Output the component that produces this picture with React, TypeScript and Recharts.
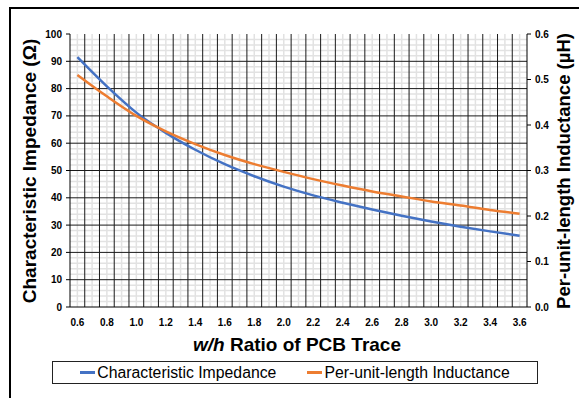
import { LineChart, Line, XAxis, YAxis, ReferenceLine } from 'recharts';

// w/h ratio of the trace (x axis categories)
const ratio = [0.6, 0.8, 1.0, 1.2, 1.4, 1.6, 1.8, 2.0, 2.2, 2.4, 2.6, 2.8, 3.0, 3.2, 3.4, 3.6];
// characteristic impedance, ohms (left axis)
const impedance = [91.5, 80.8, 71.2, 63.8, 57.6, 52.3, 47.9, 44.1, 40.9, 38.2, 35.7, 33.4, 31.3, 29.4, 27.7, 26.1];
// per-unit-length inductance, uH (right axis)
const inductance = [0.51, 0.463, 0.42, 0.386, 0.358, 0.334, 0.314, 0.297, 0.281, 0.267, 0.254, 0.243, 0.232, 0.223, 0.213, 0.205];

const xTicks = [0.6, 0.8, 1.0, 1.2, 1.4, 1.6, 1.8, 2.0, 2.2, 2.4, 2.6, 2.8, 3.0, 3.2, 3.4, 3.6];
const impedanceTicks = [0, 10, 20, 30, 40, 50, 60, 70, 80, 90, 100];
const inductanceTicks = [0, 0.1, 0.2, 0.3, 0.4, 0.5, 0.6];

const seriesNames = ['Characteristic Impedance', 'Per-unit-length Inductance'];
const seriesColors = ['#4472C4', '#ED7D31'];

// grid: dark lines between categories, light lines on categories and every 2 ohms
const xMajorGrid = Array.from({ length: 30 }, (_, i) => 0.65 + i * 0.1);
const xMinorGrid = Array.from({ length: 31 }, (_, i) => 0.6 + i * 0.1);
const yMinorGrid = Array.from({ length: 49 }, (_, i) => 2 + i * 2).filter((v) => v % 10 !== 0);
const yMajorGrid = impedanceTicks.slice(1, -1);

const data = ratio.map((r, i) => ({ ratio: r, impedance: impedance[i], inductance: inductance[i] }));

const font = '"Liberation Sans", Arial, sans-serif';
const tickStyle = { fill: '#000', fontSize: 10, fontWeight: 'bold', fontFamily: font };
const titleStyle = {
  position: 'absolute' as const,
  whiteSpace: 'nowrap' as const,
  fontSize: 19,
  fontWeight: 'bold' as const,
};

export default function App() {
  return (
    <div
      style={{
        position: 'absolute',
        left: 0,
        top: 0,
        width: 579,
        height: 398,
        overflow: 'hidden',
        background: '#fff',
        fontFamily: font,
      }}
    >
      <div
        style={{
          position: 'absolute',
          left: 9,
          top: 7,
          width: 700,
          height: 500,
          border: '2.5px solid #000',
        }}
      />
      <div style={{ position: 'absolute', left: 0, top: 0 }}>
        <LineChart width={579} height={398} data={data} margin={{ top: 34, right: 22, bottom: 61, left: 30 }}>
          {xMinorGrid.map((v) => (
            <ReferenceLine key={'xn' + v} x={v} yAxisId="z" stroke="#e2e2e2" strokeWidth={1.5} />
          ))}
          {yMinorGrid.map((v) => (
            <ReferenceLine key={'yn' + v} y={v} yAxisId="z" stroke="#e2e2e2" strokeWidth={1.5} />
          ))}
          {xMajorGrid.map((v) => (
            <ReferenceLine key={'xj' + v} x={v} yAxisId="z" stroke="#1a1a1a" strokeWidth={1} />
          ))}
          {yMajorGrid.map((v) => (
            <ReferenceLine key={'yj' + v} y={v} yAxisId="z" stroke="#1a1a1a" strokeWidth={1} />
          ))}
          <XAxis
            dataKey="ratio"
            type="number"
            domain={[0.55, 3.65]}
            ticks={xTicks}
            allowDataOverflow
            tickFormatter={(v: number) => v.toFixed(1)}
            tickLine={false}
            tickSize={0}
            tickMargin={12}
            axisLine={{ stroke: '#000' }}
            tick={tickStyle}
            height={30}
          />
          <XAxis
            xAxisId="top"
            orientation="top"
            dataKey="ratio"
            type="number"
            domain={[0.55, 3.65]}
            allowDataOverflow
            tick={false}
            tickLine={false}
            axisLine={{ stroke: '#000' }}
            height={0}
          />
          <YAxis
            yAxisId="z"
            domain={[0, 100]}
            ticks={impedanceTicks}
            width={40}
            tickSize={4}
            tickMargin={4}
            tickLine={{ stroke: '#000' }}
            axisLine={{ stroke: '#000' }}
            tick={tickStyle}
          />
          <YAxis
            yAxisId="l"
            orientation="right"
            domain={[0, 0.6]}
            ticks={inductanceTicks}
            tickFormatter={(v: number) => v.toFixed(1)}
            width={30}
            tickSize={4}
            tickMargin={4}
            tickLine={{ stroke: '#000' }}
            axisLine={{ stroke: '#000' }}
            tick={tickStyle}
          />
          <Line
            yAxisId="z"
            dataKey="impedance"
            name={seriesNames[0]}
            type="monotone"
            stroke={seriesColors[0]}
            strokeWidth={2.5}
            dot={false}
            isAnimationActive={false}
          />
          <Line
            yAxisId="l"
            dataKey="inductance"
            name={seriesNames[1]}
            type="monotone"
            stroke={seriesColors[1]}
            strokeWidth={2.5}
            dot={false}
            isAnimationActive={false}
          />
        </LineChart>
      </div>
      <div style={{ ...titleStyle, left: 29.5, top: 171, transform: 'translate(-50%, -50%) rotate(-90deg)' }}>
        Characteristic Impedance (Ω)
      </div>
      <div
        style={{
          ...titleStyle,
          fontSize: 18.5,
          left: 564,
          top: 171,
          transform: 'translate(-50%, -50%) rotate(-90deg)',
        }}
      >
        Per-unit-length Inductance (µH)
      </div>
      <div style={{ ...titleStyle, left: 297, top: 345, transform: 'translate(-50%, -50%)' }}>
        <i>w/h</i> Ratio of PCB Trace
      </div>
      <div
        style={{
          position: 'absolute',
          left: 52,
          top: 361,
          width: 486,
          height: 23,
          boxSizing: 'border-box',
          border: '1px solid #222',
          display: 'flex',
          justifyContent: 'center',
          alignItems: 'center',
          gap: 31,
          fontSize: 15.8,
        }}
      >
        {seriesNames.map((name, i) => (
          <span key={name} style={{ display: 'flex', alignItems: 'center' }}>
            <span style={{ display: 'inline-block', width: 15, height: 2.5, background: seriesColors[i], marginRight: 2 }} />
            {name}
          </span>
        ))}
      </div>
    </div>
  );
}
